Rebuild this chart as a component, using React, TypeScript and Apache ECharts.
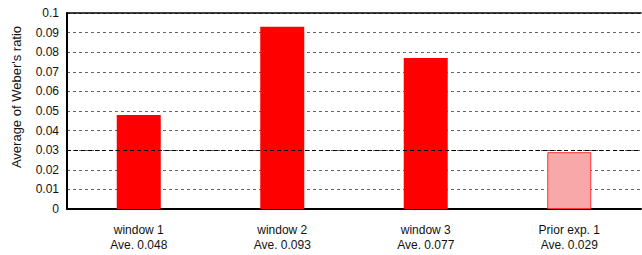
import React, { useEffect, useRef } from "react";
import * as echarts from "echarts";

const categories = ["window 1\nAve. 0.048", "window 2\nAve. 0.093", "window 3\nAve. 0.077", "Prior exp. 1\nAve. 0.029"];
const values = [0.048, 0.093, 0.077, 0.029];
const priorValue = 0.0295;
const yTitle = "Average of Weber's ratio";

export default function App() {
  const ref = useRef<HTMLDivElement>(null);
  useEffect(() => {
    if (!ref.current) return;
    const chart = echarts.init(ref.current, null, { renderer: "svg" });
    const font = "Liberation Sans, Arial, Helvetica, sans-serif";
    chart.setOption({
      animation: false,
      textStyle: { fontFamily: font },
      grid: { left: 67, right: 1, top: 13, bottom: 46 },
      xAxis: [
        {
          type: "category",
          data: categories,
          axisLine: { lineStyle: { color: "#000", width: 2 } },
          axisTick: { show: false },
          axisLabel: { color: "#111", fontSize: 12, lineHeight: 15, margin: 13, fontFamily: font },
        },
        {
          type: "category",
          position: "top",
          data: categories,
          axisLine: { lineStyle: { color: "#000", width: 1.5 } },
          axisTick: { show: false },
          axisLabel: { show: false },
        },
      ],
      yAxis: {
        type: "value",
        min: 0,
        max: 0.1,
        interval: 0.01,
        axisLine: { show: true, lineStyle: { color: "#000", width: 2 } },
        axisTick: { show: false },
        axisLabel: {
          color: "#111",
          fontSize: 12,
          margin: 8,
          fontFamily: font,
          formatter: (v: number) => String(Math.round(v * 100) / 100),
        },
        splitLine: { lineStyle: { color: "#666", type: [3, 3], width: 1 } },
      },
      graphic: [
        {
          type: "text",
          x: 10,
          y: 97,
          rotation: Math.PI / 2,
          style: {
            text: yTitle,
            fill: "#111",
            fontSize: 13,
            fontFamily: font,
            align: "center",
            verticalAlign: "top",
          },
        },
      ],
      series: [
        {
          type: "bar",
          barWidth: 44,
          data: values.map((v, i) =>
            i === 3
              ? { value: v, itemStyle: { color: "#f8a8a8", borderColor: "#f33", borderWidth: 1 } }
              : { value: v, itemStyle: { color: "#ff0000" } }
          ),
          markLine: {
            silent: true,
            symbol: "none",
            label: { show: false },
            lineStyle: { color: "#000", type: [4, 3], width: 1 },
            data: [{ yAxis: priorValue }],
          },
        },
      ],
    });
    return () => chart.dispose();
  }, []);
  return <div ref={ref} style={{ width: 642, height: 255, position: "absolute", left: 0, top: 0 }} />;
}
